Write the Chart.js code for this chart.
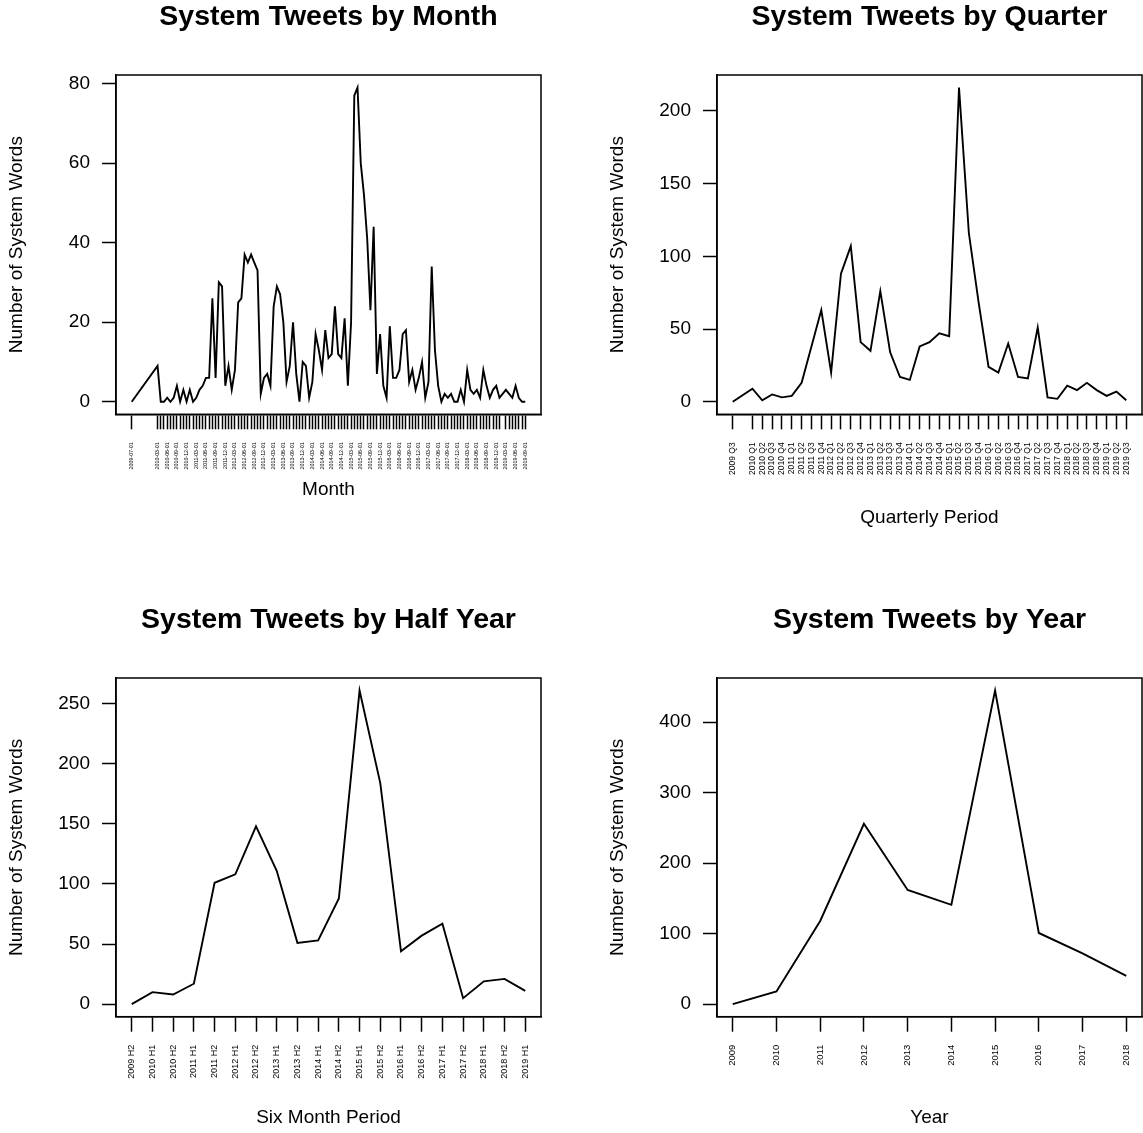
<!DOCTYPE html>
<html>
<head>
<meta charset="utf-8">
<title>System Tweets</title>
<script src="https://cdn.jsdelivr.net/npm/chart.js@4.4.1/dist/chart.umd.min.js"></script>
<style>
  html, body { margin: 0; padding: 0; background: #fff; overflow: hidden; }
  #page { position: relative; width: 1143px; height: 1133px; overflow: hidden; background: #fff; }
  canvas { position: absolute; }
</style>
</head>
<body>
<div id="page">
  <canvas id="cMonth"   width="657" height="560" style="left:0px;top:0px"></canvas>
  <canvas id="cQuarter" width="657" height="560" style="left:601px;top:0px"></canvas>
  <canvas id="cHalf"    width="657" height="530" style="left:0px;top:603px"></canvas>
  <canvas id="cYear"    width="657" height="530" style="left:601px;top:603px"></canvas>
</div>
<script>
// ---- data ----
var monthLabels = [
  "2009-07-01",
  "2010-03-01","2010-04-01","2010-05-01","2010-06-01","2010-07-01","2010-08-01","2010-09-01","2010-10-01","2010-11-01","2010-12-01",
  "2011-01-01","2011-02-01","2011-03-01","2011-04-01","2011-05-01","2011-06-01","2011-07-01","2011-08-01","2011-09-01","2011-10-01","2011-11-01","2011-12-01",
  "2012-01-01","2012-02-01","2012-03-01","2012-04-01","2012-05-01","2012-06-01","2012-07-01","2012-08-01","2012-09-01","2012-10-01","2012-11-01","2012-12-01",
  "2013-01-01","2013-02-01","2013-03-01","2013-04-01","2013-05-01","2013-06-01","2013-07-01","2013-08-01","2013-09-01","2013-10-01","2013-11-01","2013-12-01",
  "2014-01-01","2014-02-01","2014-03-01","2014-04-01","2014-05-01","2014-06-01","2014-07-01","2014-08-01","2014-09-01","2014-10-01","2014-11-01","2014-12-01",
  "2015-01-01","2015-02-01","2015-03-01","2015-04-01","2015-05-01","2015-06-01","2015-07-01","2015-08-01","2015-09-01","2015-10-01","2015-11-01","2015-12-01",
  "2016-01-01","2016-02-01","2016-03-01","2016-04-01","2016-05-01","2016-06-01","2016-07-01","2016-08-01","2016-09-01","2016-10-01","2016-11-01","2016-12-01",
  "2017-01-01","2017-02-01","2017-03-01","2017-04-01","2017-05-01","2017-06-01","2017-07-01","2017-08-01","2017-09-01","2017-10-01","2017-11-01","2017-12-01",
  "2018-01-01","2018-02-01","2018-03-01","2018-04-01","2018-05-01","2018-06-01","2018-07-01","2018-08-01","2018-09-01","2018-10-01","2018-11-01","2018-12-01",
  "2019-01-01","2019-03-01","2019-04-01","2019-05-01","2019-06-01","2019-07-01","2019-08-01","2019-09-01"
];
var monthValues = [
  0,
  9,0,0,1,0,1,4,0,3,0,
  3,0,1,3,4,6,6,26,6,30,29,4,
  9,3,8,25,26,37,35,37,35,33,2,6,
  7,4,24,29,27,20,5,9,20,7,0,10,
  9,1,5,17,13,8,18,11,12,24,12,11,
  21,4,20,77,79,60,52,41,23,44,7,17,
  4,1,19,6,6,8,17,18,5,8,3,6,
  10,1,5,34,13,4,0,2,1,2,0,0,
  3,0,8,3,2,3,1,8,4,1,3,4,
  1,3,2,1,4,1,0,0
];

var quarterLabels = [
  "2009 Q3",
  "2010 Q1","2010 Q2","2010 Q3","2010 Q4","2011 Q1","2011 Q2","2011 Q3","2011 Q4",
  "2012 Q1","2012 Q2","2012 Q3","2012 Q4","2013 Q1","2013 Q2","2013 Q3","2013 Q4",
  "2014 Q1","2014 Q2","2014 Q3","2014 Q4","2015 Q1","2015 Q2","2015 Q3","2015 Q4",
  "2016 Q1","2016 Q2","2016 Q3","2016 Q4","2017 Q1","2017 Q2","2017 Q3","2017 Q4",
  "2018 Q1","2018 Q2","2018 Q3","2018 Q4","2019 Q1","2019 Q2","2019 Q3"
];
var quarterValues = [
  0,
  9,1,5,3,4,13,38,63,
  20,88,107,41,35,76,34,17,
  15,38,41,47,45,216,116,68,
  24,20,40,17,16,51,3,2,
  11,8,13,8,4,7,1
];

var halfLabels = [
  "2009 H2","2010 H1","2010 H2","2011 H1","2011 H2","2012 H1","2012 H2","2013 H1","2013 H2","2014 H1",
  "2014 H2","2015 H1","2015 H2","2016 H1","2016 H2","2017 H1","2017 H2","2018 H1","2018 H2","2019 H1"
];
var halfValues = [0,10,8,17,101,108,148,111,51,53,88,261,184,44,57,67,5,19,21,11];

var yearLabels = ["2009","2010","2011","2012","2013","2014","2015","2016","2017","2018"];
var yearValues = [0,18,118,256,162,141,445,101,72,40];

var monthTicksY = [0,20,40,60,80];
var quarterTicksY = [0,50,100,150,200];
var halfTicksY = [0,50,100,150,200,250];
var yearTicksY = [0,100,200,300,400];

// ---- label -> position on a time axis (gaps stay gaps) ----
function monthPos(s) { return (+s.slice(0,4) - 2009) * 12 + (+s.slice(5,7) - 7); }
function quarterPos(s) { return (+s.slice(0,4) - 2009) * 4 + (+s.slice(6) - 3); }
function halfPos(s) { return (+s.slice(0,4) - 2009) * 2 + (+s.slice(6) - 2); }
function yearPos(s) { return +s - 2009; }

var FONT = "'Liberation Sans', Arial, Helvetica, sans-serif";
var AXIS_SIZE = 19;
var TITLE_SIZE = 28.5;

var boxPlugin = {
  id: 'box',
  afterDraw: function(chart) {
    var a = chart.chartArea, ctx = chart.ctx;
    ctx.save();
    ctx.strokeStyle = '#000';
    ctx.lineWidth = 1.5;
    ctx.strokeRect(a.left, a.top, a.right - a.left, a.bottom - a.top);
    ctx.restore();
  }
};

function rExtend(lo, hi) {
  var d = (hi - lo) * 0.04;
  return [lo - d, hi + d];
}

function makePanel(id, opt) {
  var xs = opt.labels.map(opt.pos);
  var lookup = {};
  opt.labels.forEach(function(l, i) { lookup[xs[i]] = l; });
  var pts = opt.values.map(function(v, i) { return { x: xs[i], y: v }; });
  var xr = rExtend(Math.min.apply(null, xs), Math.max.apply(null, xs));
  var yr = rExtend(Math.min.apply(null, opt.values), Math.max.apply(null, opt.values));
  var canvas = document.getElementById(id);
  var titleLH = TITLE_SIZE * 1.2;

  new Chart(canvas, {
    type: 'line',
    data: {
      datasets: [{
        data: pts,
        borderColor: '#000',
        borderWidth: 1.9,
        pointRadius: 0,
        tension: 0,
        fill: false
      }]
    },
    options: {
      responsive: false,
      animation: false,
      devicePixelRatio: 1,
      layout: { padding: 0 },
      plugins: {
        legend: { display: false },
        tooltip: { enabled: false },
        title: {
          display: true,
          text: opt.title,
          color: '#000',
          font: { family: FONT, size: TITLE_SIZE, weight: 'bold', lineHeight: 1.2 },
          padding: { top: 0.5, bottom: 75 - 0.5 - titleLH }
        }
      },
      scales: {
        x: {
          type: 'linear',
          min: xr[0],
          max: xr[1],
          afterBuildTicks: function(axis) {
            axis.ticks = xs.map(function(v) { return { value: v }; });
          },
          afterFit: function(axis) { axis.height = opt.xHeight; },
          ticks: {
            autoSkip: false,
            minRotation: 90,
            maxRotation: 90,
            padding: 13,
            color: '#000',
            font: { family: FONT, size: opt.xTickSize },
            callback: function(v) {
              var l = lookup[v];
              return opt.showLabel(l, v) ? l : '';
            }
          },
          grid: { drawOnChartArea: false, drawTicks: true, tickLength: 15, tickColor: '#000', tickWidth: 1.5 },
          border: { display: true, color: '#000', width: 1.5 },
          title: {
            display: true,
            text: opt.xTitle,
            color: '#000',
            font: { family: FONT, size: AXIS_SIZE, lineHeight: 1.2 },
            padding: { top: 0, bottom: opt.xTitlePad }
          }
        },
        y: {
          type: 'linear',
          min: yr[0],
          max: yr[1],
          afterBuildTicks: function(axis) {
            axis.ticks = opt.yTicks.map(function(v) { return { value: v }; });
          },
          afterFit: function(axis) { axis.width = 116; },
          ticks: {
            padding: 12,
            color: '#000',
            font: { family: FONT, size: AXIS_SIZE },
            callback: function(v) { return String(v); }
          },
          grid: { drawOnChartArea: false, drawTicks: true, tickLength: 14, tickColor: '#000', tickWidth: 1.5 },
          border: { display: true, color: '#000', width: 1.5 },
          title: {
            display: true,
            text: 'Number of System Words',
            color: '#000',
            font: { family: FONT, size: AXIS_SIZE, lineHeight: 1.2 },
            padding: { top: 5.6, bottom: 0 }
          }
        },
        // empty right margin so the plot title centres over the plot box
        yRight: {
          type: 'linear',
          position: 'right',
          display: true,
          afterFit: function(axis) { axis.width = 116; },
          ticks: { display: false },
          grid: { display: false, drawTicks: false },
          border: { display: false }
        }
      }
    },
    plugins: [boxPlugin]
  });
}

makePanel('cMonth', {
  title: 'System Tweets by Month', xTitle: 'Month',
  labels: monthLabels, values: monthValues, pos: monthPos, yTicks: monthTicksY,
  xHeight: 560 - 414.3, xTickSize: 5.3, xTitlePad: 58.6,
  showLabel: function(l, v) { return v === 0 || (+l.slice(5,7)) % 3 === 0; }
});
makePanel('cQuarter', {
  title: 'System Tweets by Quarter', xTitle: 'Quarterly Period',
  labels: quarterLabels, values: quarterValues, pos: quarterPos, yTicks: quarterTicksY,
  xHeight: 560 - 414.3, xTickSize: 8.5, xTitlePad: 30.6,
  showLabel: function() { return true; }
});
makePanel('cHalf', {
  title: 'System Tweets by Half Year', xTitle: 'Six Month Period',
  labels: halfLabels, values: halfValues, pos: halfPos, yTicks: halfTicksY,
  xHeight: 530 - 413.7, xTickSize: 9, xTitlePad: 3.6,
  showLabel: function() { return true; }
});
makePanel('cYear', {
  title: 'System Tweets by Year', xTitle: 'Year',
  labels: yearLabels, values: yearValues, pos: yearPos, yTicks: yearTicksY,
  xHeight: 530 - 413.7, xTickSize: 9.5, xTitlePad: 3.6,
  showLabel: function() { return true; }
});
</script>
</body>
</html>
